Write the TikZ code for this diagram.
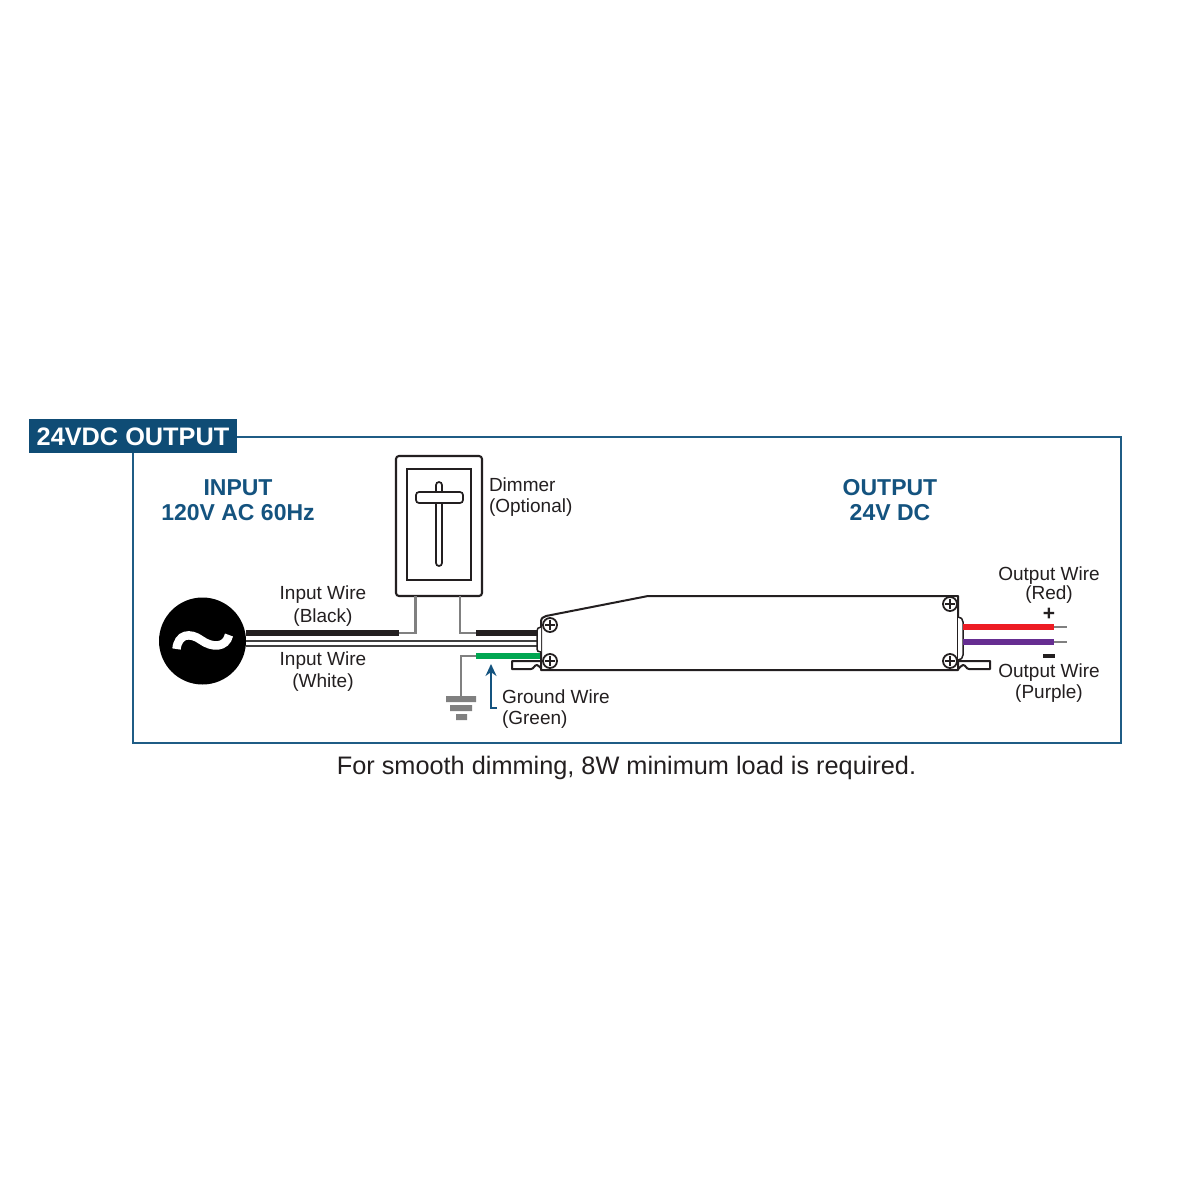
\documentclass[tikz,border=0pt]{standalone}
\usepackage{fontspec}
\setmainfont{Liberation Sans}
\usetikzlibrary{arrows.meta}
\definecolor{frameblue}{HTML}{1F5C85}
\definecolor{titleblue}{HTML}{0F4C75}
\definecolor{headblue}{HTML}{14537F}
\definecolor{wiregrey}{HTML}{808080}
\definecolor{inkblack}{HTML}{231F20}
\definecolor{wiregreen}{HTML}{00A651}
\definecolor{wirered}{HTML}{ED1C24}
\definecolor{wirepurple}{HTML}{662D91}
\tikzset{
  x=1pt,y=-1pt,
  every node/.style={outer sep=0pt},
  lbl/.style={font=\fontsize{19}{19}\selectfont,text=inkblack,inner sep=0pt},
  head/.style={font=\fontsize{23}{23}\selectfont\bfseries,text=headblue,inner sep=0pt},
  thin wire/.style={draw=wiregrey,line width=2.2pt},
  fat/.style={line width=6.5pt},
  outline/.style={draw=inkblack,line width=2pt,line join=round},
  screwdisc/.style={circle,draw=inkblack,fill=white,line width=1.8pt,minimum size=14pt,inner sep=0pt},
  pics/screw/.style={code={
    \draw[inkblack,line width=1.9pt] (-4.8,0) -- (4.8,0) (0,-4.8) -- (0,4.8);
  }}
}
\begin{document}
\begin{tikzpicture}
\useasboundingbox[fill=white] (0,0) rectangle (1200,1200);
% frame
\node[draw=frameblue,line width=2pt,minimum width=988pt,minimum height=306pt,inner sep=0pt,anchor=north west] (frame) at (133,437) {};
\node[fill=titleblue,minimum width=208pt,minimum height=34pt,inner sep=0pt,anchor=north west] (title) at (29,419) {};
\node[text=white,font=\fontsize{25.3}{25}\selectfont\bfseries,inner sep=0pt] (titletext) at (133,437) {24VDC OUTPUT};
% headings
\node[head] (inA) at (238,487.5) {INPUT};
\node[head] (inB) at (238,512.5) {120V AC 60Hz};
\node[head] (outA) at (890,487.5) {OUTPUT};
\node[head] (outB) at (890,512.5) {24V DC};
% source
\node[circle,fill=black,minimum size=87pt,inner sep=0pt] (src) at (202.5,641) {};
\draw[white,line width=8.5pt] (176.5,649) .. controls (178,634) and (190,632) .. (201,640) .. controls (212,648) and (226,648) .. (229,635);
% dimmer
\node[draw=inkblack,line width=2.1pt,rounded corners=3pt,minimum width=86pt,minimum height=140pt,inner sep=0pt,anchor=north west] (dim) at (396,456) {};
\node[draw=inkblack,line width=1.8pt,minimum width=64pt,minimum height=111pt,inner sep=0pt,anchor=north west] (dimin) at (407,469) {};
\node[draw=inkblack,line width=1.7pt,rounded corners=3pt,minimum width=6pt,minimum height=84pt,inner sep=0pt,anchor=north west] (slot) at (436,482) {};
\node[draw=inkblack,fill=white,line width=1.7pt,rounded corners=3pt,minimum width=47pt,minimum height=11pt,inner sep=0pt,anchor=north west] (knob) at (416,492) {};
% coordinates
\coordinate (bk1) at (399,633);
\coordinate (bk2) at (415.5,633);
\coordinate (bk3) at (415.5,596);
\coordinate (bk4) at (460,596);
\coordinate (bk5) at (460,633);
\coordinate (bk6) at (476,633);
\coordinate (bk7) at (537,633);
\coordinate (wa1) at (246,641);
\coordinate (wa2) at (537,641);
\coordinate (wb1) at (246,646);
\coordinate (wb2) at (537,646);
\coordinate (g1) at (476,656);
\coordinate (g2) at (542,656);
\coordinate (g3) at (461,656);
\coordinate (g4) at (461,699);
% wires
\draw[inkblack,fat] (246,633) -- (bk1);
\draw[thin wire] (bk1) -- (bk2) -- (bk3);
\draw[thin wire] (bk4) -- (bk5) -- (bk6);
\draw[inkblack,fat] (bk6) -- (bk7);
\draw[black!75,line width=2pt] (wa1) -- (wa2) (wb1) -- (wb2);
\draw[wiregreen,fat] (g1) -- (g2);
\draw[thin wire] (g1) -- (g3) -- (g4);
% ground
\fill[wiregrey] (446,696) rectangle (476,702) (450,705) rectangle (472,711) (456,714) rectangle (467,720);
% arrow
\coordinate (ar1) at (497,708);
\coordinate (ar2) at (491,708);
\coordinate (ar3) at (491,664);
\draw[headblue,line width=1.6pt,-{Stealth[length=12pt,width=11pt]}] (ar1) -- (ar2) -- (ar3);
% driver tabs
\draw[outline,fill=white] (542,661) -- (512,661) -- (512,669) -- (531,669) .. controls (534,669) and (534,665) .. (537,665) .. controls (539,665) and (540,668) .. (543,670);
\draw[outline,fill=white] (958,661) -- (990,661) -- (990,669) -- (969,669) .. controls (966,669) and (966,665) .. (963,665) .. controls (961,665) and (960,668) .. (957,670);
% driver body
\draw[outline,fill=white] (541,622) .. controls (541,618) and (543,617) .. (546,616) -- (648,596) -- (958,596) -- (958,670) -- (541,670) -- cycle;
\draw[outline,line width=1.5pt,fill=white] (541,627) .. controls (538,627) and (537,629) .. (537,631) -- (537,649) .. controls (537,651) and (538,652) .. (541,652);
\draw[outline,line width=1.5pt,fill=white] (958,617) .. controls (961,617) and (963,619) .. (963,622) -- (963,655) .. controls (963,658) and (961,660) .. (958,660);
% screws
\node[screwdisc] (s1) at (550,625) {}; \pic at (s1) {screw};
\node[screwdisc] (s2) at (550,661) {}; \pic at (s2) {screw};
\node[screwdisc] (s3) at (950,604) {}; \pic at (s3) {screw};
\node[screwdisc] (s4) at (950,661) {}; \pic at (s4) {screw};
% output wires
\draw[wirered,fat] (963,627) -- (1054,627);
\draw[wirepurple,fat] (963,642) -- (1054,642);
\draw[wiregrey,line width=1.5pt] (1054,627) -- (1067,627) (1054,642) -- (1067,642);
\node[font=\fontsize{21}{21}\selectfont\bfseries,text=inkblack,inner sep=0pt] (plus) at (1049,614.5) {+};
\fill[inkblack] (1043,654) rectangle (1055,657.5);
% labels
\node[lbl,anchor=west] (d1) at (489,484.5) {Dimmer};
\node[lbl,anchor=west] (d2) at (489,508) {(Optional)};
\node[lbl] (ib1) at (323,594.5) {Input Wire};
\node[lbl] (ib2) at (323,617.5) {(Black)};
\node[lbl] (iw1) at (323,660.5) {Input Wire};
\node[lbl] (iw2) at (323,682.5) {(White)};
\node[lbl,anchor=west] (g1t) at (502,696.5) {Ground Wire};
\node[lbl,anchor=west] (g2t) at (502,720) {(Green)};
\node[lbl] (o1) at (1049,575.5) {Output Wire};
\node[lbl] (o2) at (1049,595) {(Red)};
\node[lbl] (o3) at (1049,672.5) {Output Wire};
\node[lbl] (o4) at (1049,693.5) {(Purple)};
\node[font=\fontsize{25.3}{25}\selectfont,text=inkblack,inner sep=0pt] (note) at (626.5,767.5) {For smooth dimming, 8W minimum load is required.};
\end{tikzpicture}
\end{document}
